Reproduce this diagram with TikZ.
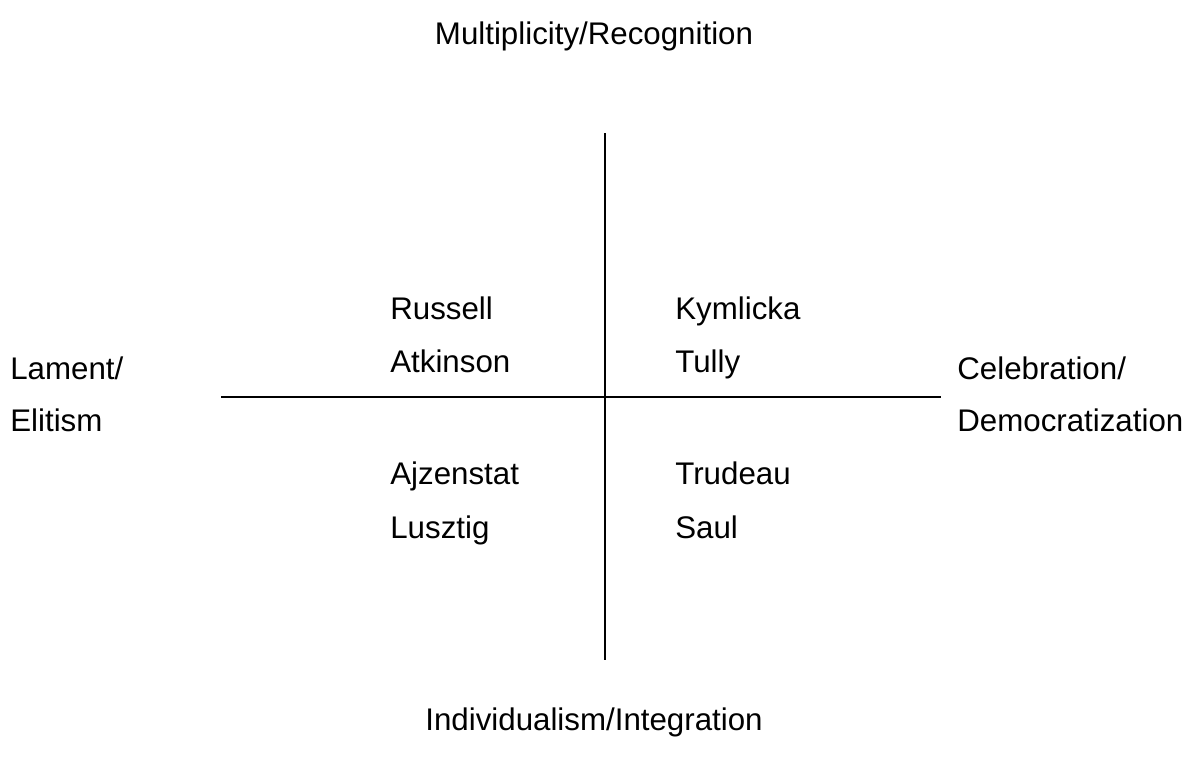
\documentclass[tikz,border=0pt]{standalone}
\usepackage{fontspec}
\setmainfont{Liberation Sans}
\usepackage{tikz}

\begin{document}
\begin{tikzpicture}[x=0.02cm, y=-0.02cm,
	lbl/.style={inner sep=0pt, anchor=base west, font=\fontsize{17.8}{21}\selectfont},
	ttl/.style={inner sep=0pt, anchor=base, font=\fontsize{17.8}{21}\selectfont},
	axis/.style={line width=1.1pt}]
	
	\useasboundingbox (0, 0) rectangle (1189, 764);
	
	\coordinate (top)    at (605, 133);
	\coordinate (bottom) at (605, 660);
	\coordinate (left)   at (221, 397);
	\coordinate (right)  at (941, 397);
	
	\node[ttl] (mult)  at (594, 44)  {Multiplicity/Recognition};
	\node[ttl] (indiv) at (594, 730) {Individualism/Integration};
	
	\node[lbl] (lament) at (10, 379)  {Lament/};
	\node[lbl] (elit)   at (10, 431)  {Elitism};
	\node[lbl] (celeb)  at (957, 379) {Celebration/};
	\node[lbl] (democ)  at (957, 431) {Democratization};
	
	\node[lbl] (russell)  at (390, 319) {Russell};
	\node[lbl] (atkinson) at (390, 372) {Atkinson};
	\node[lbl] (kymlicka) at (675, 319) {Kymlicka};
	\node[lbl] (tully)    at (675, 372) {Tully};
	\node[lbl] (ajzen)    at (390, 484) {Ajzenstat};
	\node[lbl] (lusztig)  at (390, 538) {Lusztig};
	\node[lbl] (trudeau)  at (675, 484) {Trudeau};
	\node[lbl] (saul)     at (675, 538) {Saul};
	
	\path[-, axis] (top) edge (bottom);
	\path[-, axis] (left) edge (right);
	
\end{tikzpicture}
\end{document}
